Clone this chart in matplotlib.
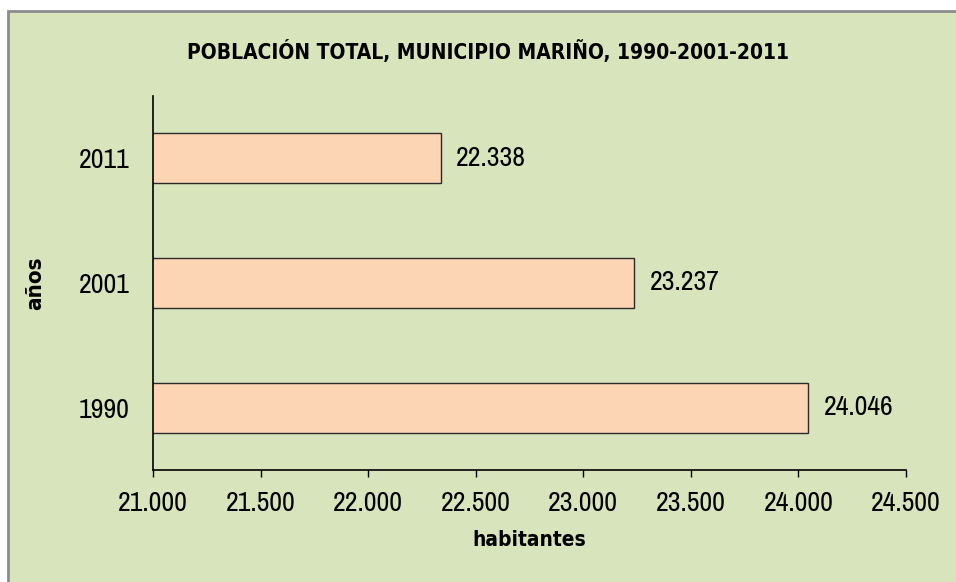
import matplotlib
matplotlib.use('Agg')
import matplotlib.pyplot as plt
from matplotlib.patches import Rectangle
from matplotlib.ticker import FuncFormatter

# Population of the municipality by census year
years = ['1990', '2001', '2011']
population = [24046, 23237, 22338]

x_ticks = [21000, 21500, 22000, 22500, 23000, 23500, 24000, 24500]

plt.rcParams['font.family'] = ['Archivo Narrow', 'DejaVu Sans']
plt.rcParams['font.stretch'] = 'condensed'
BOLD = ['DejaVu Sans']  # condensed bold face for headings


def miles(v):
    # thousands separator as a dot
    return f'{int(v):,}'.replace(',', '.')


fig = plt.figure(figsize=(9.56, 5.82), dpi=100)
fig.patch.set_facecolor('white')

# green chart area with grey border
bg = Rectangle((8 / 956, -0.05), 1.1, 1 - 11 / 582 + 0.05, transform=fig.transFigure,
               facecolor='#D8E4BC', edgecolor='#8C8C8C', linewidth=2, zorder=-1)
fig.patches.append(bg)

ax = fig.add_axes([153 / 956, 1 - 470 / 582, (906 - 153) / 956, (470 - 96) / 582])
ax.set_facecolor('none')
ax.set_zorder(2)

bars = ax.barh(years, population, height=0.4, left=0, color='#FCD5B5',
               edgecolor='#2b2b2b', linewidth=1.0)
ax.set_xlim(21000, 24500)
ax.set_ylim(-0.5, 2.5)

for bar, val in zip(bars, population):
    ax.annotate(miles(val), xy=(val, bar.get_y() + bar.get_height() / 2),
                xytext=(11, 0), textcoords='offset points', va='center', ha='left',
                fontsize=20, color='black')

ax.set_xticks(x_ticks)
ax.xaxis.set_major_formatter(FuncFormatter(lambda v, p: miles(v)))
ax.tick_params(axis='x', length=5, width=1, direction='out', labelsize=20, pad=10)
ax.tick_params(axis='y', length=0, labelsize=20, pad=17)

for side in ['top', 'right']:
    ax.spines[side].set_visible(False)
for side in ['left', 'bottom']:
    ax.spines[side].set_color('black')
    ax.spines[side].set_linewidth(1.2)

ax.set_xlabel('habitantes', fontsize=15, fontweight='bold', family=BOLD)
ax.xaxis.label.set_va('center')
ax.xaxis.set_label_coords(0.5, (470 - 540) / 374)
ax.set_ylabel('años', fontsize=16, fontweight='bold', family=BOLD)
ax.yaxis.label.set_va('center')
ax.yaxis.set_label_coords((35 - 153) / 753, 0.5)

fig.text(488 / 956, 1 - 52 / 582, 'POBLACIÓN TOTAL, MUNICIPIO MARIÑO, 1990-2001-2011',
         ha='center', va='center', fontsize=15, fontweight='bold', family=BOLD)

fig.savefig('out.png', dpi=100)
